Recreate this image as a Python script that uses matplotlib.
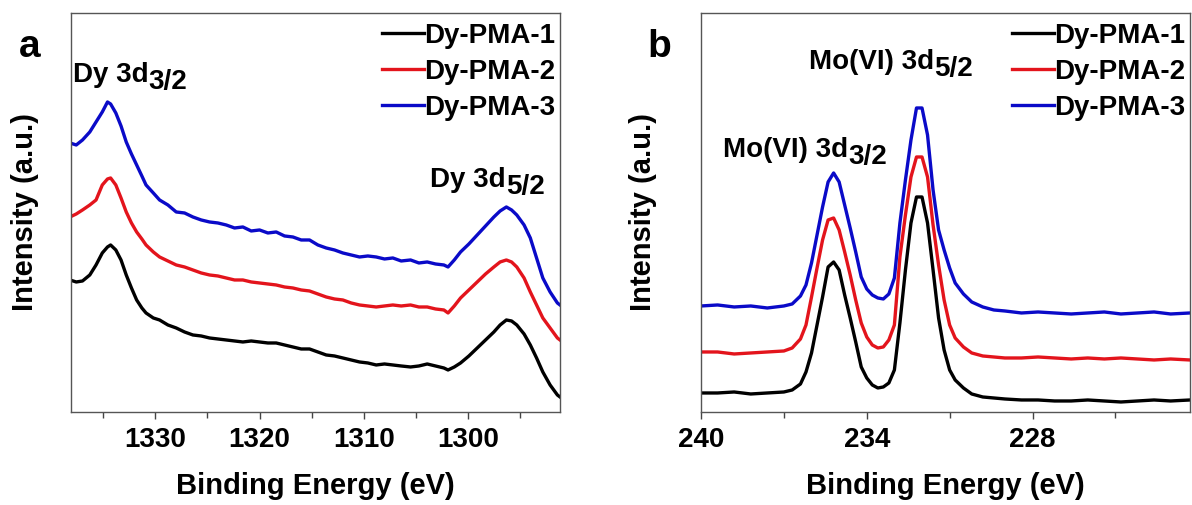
import matplotlib
matplotlib.use("Agg")
import matplotlib.pyplot as plt
from matplotlib.ticker import MultipleLocator, NullLocator

plt.rcParams['font.family'] = ['Liberation Sans', 'DejaVu Sans']
plt.rcParams['font.weight'] = 'bold'
plt.rcParams['axes.labelweight'] = 'bold'

# ---- panel a: Dy 3d region ----
energy_a = [1338.2, 1337.6, 1337.0, 1336.3, 1335.7, 1335.1, 1334.6, 1334.3, 1333.8, 1333.3,
            1332.8, 1332.3, 1331.8, 1331.3, 1330.9, 1330.2, 1329.6, 1328.8, 1328.0, 1327.2,
            1326.4, 1325.6, 1324.8, 1324.0, 1323.2, 1322.4, 1321.6, 1320.8, 1320.0, 1319.2,
            1318.4, 1317.6, 1316.8, 1316.0, 1315.2, 1314.4, 1313.6, 1312.8, 1312.0, 1311.2,
            1310.4, 1309.6, 1308.8, 1308.0, 1307.2, 1306.4, 1305.5, 1304.7, 1303.9, 1303.1,
            1302.3, 1301.9, 1301.3, 1300.7, 1299.9, 1299.1, 1298.3, 1297.5, 1296.9, 1296.3,
            1295.8, 1295.3, 1294.6, 1294.0, 1293.4, 1292.8, 1292.1, 1291.4, 1291.15]

pma1_a = [132, 130, 131, 137, 147, 159, 165, 167, 162, 152,
          137, 124, 112, 104, 99, 94, 92, 87, 84, 80,
          77, 76, 74, 73, 72, 71, 70, 71, 70, 69,
          69, 67, 65, 63, 63, 60, 57, 56, 54, 52,
          50, 49, 47, 48, 47, 46, 45, 46, 48, 46,
          44, 42, 45, 49, 56, 64, 72, 80, 87, 92,
          91, 87, 78, 67, 54, 40, 27, 17, 15]

pma2_a = [195, 198, 202, 207, 212, 227, 233, 234, 227, 214,
          200, 189, 180, 173, 167, 160, 155, 151, 147, 145,
          142, 139, 137, 136, 134, 132, 132, 130, 129, 128,
          127, 125, 124, 122, 121, 118, 115, 113, 112, 109,
          107, 106, 105, 106, 107, 106, 107, 105, 105, 103,
          102, 99, 106, 114, 122, 130, 138, 145, 150, 152,
          150, 145, 134, 120, 107, 94, 84, 74, 72]

pma3_a = [269, 267, 272, 280, 290, 300, 310, 308, 299, 286,
          270, 258, 247, 236, 227, 219, 212, 207, 200, 199,
          195, 192, 190, 189, 187, 184, 185, 181, 182, 179,
          180, 176, 175, 172, 172, 167, 164, 162, 159, 157,
          155, 156, 155, 153, 154, 151, 152, 149, 150, 148,
          147, 145, 152, 160, 168, 177, 186, 195, 201, 205,
          202, 197, 187, 174, 154, 134, 120, 109, 107]

# ---- panel b: Mo 3d region ----
energy_b = [240.0, 239.4, 238.8, 238.2, 237.6, 237.0, 236.7, 236.4, 236.2, 236.0,
            235.8, 235.6, 235.4, 235.2, 235.0, 234.8, 234.6, 234.4, 234.2, 234.0,
            233.8, 233.6, 233.4, 233.2, 233.0, 232.8, 232.6, 232.4, 232.2, 232.0,
            231.8, 231.6, 231.4, 231.2, 231.0, 230.8, 230.5, 230.2, 229.8, 229.4,
            229.0, 228.4, 227.8, 227.2, 226.6, 226.0, 225.4, 224.8, 224.2, 223.6,
            223.0, 222.3]

pma1_b = [19, 19, 20, 18, 19, 20, 22, 28, 40, 59,
          87, 115, 145, 150, 142, 117, 94, 70, 45, 34,
          27, 24, 25, 29, 42, 89, 142, 189, 215, 215,
          189, 142, 94, 62, 42, 32, 24, 18, 15, 14,
          13, 12, 12, 11, 11, 12, 11, 10, 11, 12,
          11, 12]

pma2_b = [60, 60, 58, 59, 60, 61, 64, 73, 87, 115,
          144, 172, 192, 194, 182, 160, 137, 112, 89, 75,
          67, 64, 65, 72, 87, 155, 197, 235, 255, 255,
          235, 187, 147, 112, 87, 74, 65, 59, 56, 55,
          54, 54, 55, 54, 53, 54, 53, 54, 53, 52,
          53, 52]

pma3_b = [106, 107, 105, 106, 104, 106, 108, 116, 127, 149,
          177, 205, 230, 239, 230, 207, 184, 160, 135, 123,
          117, 114, 113, 118, 134, 189, 232, 272, 304, 304,
          277, 222, 182, 162, 144, 129, 118, 110, 105, 102,
          101, 99, 100, 99, 98, 99, 100, 98, 99, 100,
          98, 99]

labels = ['Dy-PMA-1', 'Dy-PMA-2', 'Dy-PMA-3']
colors = ['#000000', '#e3141c', '#0a0ac8']

fig = plt.figure(figsize=(11.92, 5.05), dpi=100)
ax_a = fig.add_axes([0.0596, 0.1842, 0.4102, 0.7901])
ax_b = fig.add_axes([0.5881, 0.1842, 0.4102, 0.7901])


def peak_label(ax, x, y, main, sub):
    t = ax.text(x, y, main, fontsize=20, ha='left', va='center')
    ax.annotate(sub, xy=(1.0, 0.5), xycoords=t, xytext=(0, -5),
                textcoords='offset points', fontsize=20, ha='left', va='center')


def style(ax, xlim, major, minor, letter):
    ax.set_xlim(*xlim)
    ax.set_ylim(0, 399)
    ax.xaxis.set_major_locator(MultipleLocator(major))
    ax.xaxis.set_minor_locator(MultipleLocator(minor))
    ax.yaxis.set_major_locator(NullLocator())
    ax.tick_params(axis='x', which='major', direction='out', length=5, width=1,
                   labelsize=20, pad=6, color='#444444')
    ax.tick_params(axis='x', which='minor', direction='out', length=4, width=1,
                   color='#444444')
    for s in ax.spines.values():
        s.set_color('#555555')
        s.set_linewidth(1.0)
    ax.set_xlabel('Binding Energy (eV)', fontsize=21)
    ax.xaxis.set_label_coords(0.5, -0.15)
    ax.set_ylabel('Intensity (a.u.)', fontsize=21)
    ax.text(-0.085, 0.915, letter, transform=ax.transAxes, fontsize=28,
            ha='center', va='center')
    ax.legend(loc='upper right', bbox_to_anchor=(0.99, 0.975), frameon=False,
              fontsize=20, handlelength=1.5, handletextpad=0.0,
              labelspacing=0.36, borderpad=0.0, borderaxespad=0.0)


for ys, lab, c in zip([pma1_a, pma2_a, pma3_a], labels, colors):
    ax_a.plot(energy_a, ys, color=c, lw=2.4, label=lab)
for ys, lab, c in zip([pma1_b, pma2_b, pma3_b], labels, colors):
    ax_b.plot(energy_b, ys, color=c, lw=2.4, label=lab)

style(ax_a, (1338.1, 1291.15), 10, 5, 'a')
style(ax_b, (240.0, 222.3), 6, 3, 'b')
ax_a.yaxis.set_label_coords(-0.065, 0.5)
ax_b.yaxis.set_label_coords(-0.09, 0.5)

peak_label(ax_a, 1337.95, 337, 'Dy 3d', '3/2')
peak_label(ax_a, 1303.6, 232, 'Dy 3d', '5/2')
peak_label(ax_b, 239.2, 262, 'Mo(VI) 3d', '3/2')
peak_label(ax_b, 236.1, 350, 'Mo(VI) 3d', '5/2')

fig.savefig('out.png', dpi=100)
